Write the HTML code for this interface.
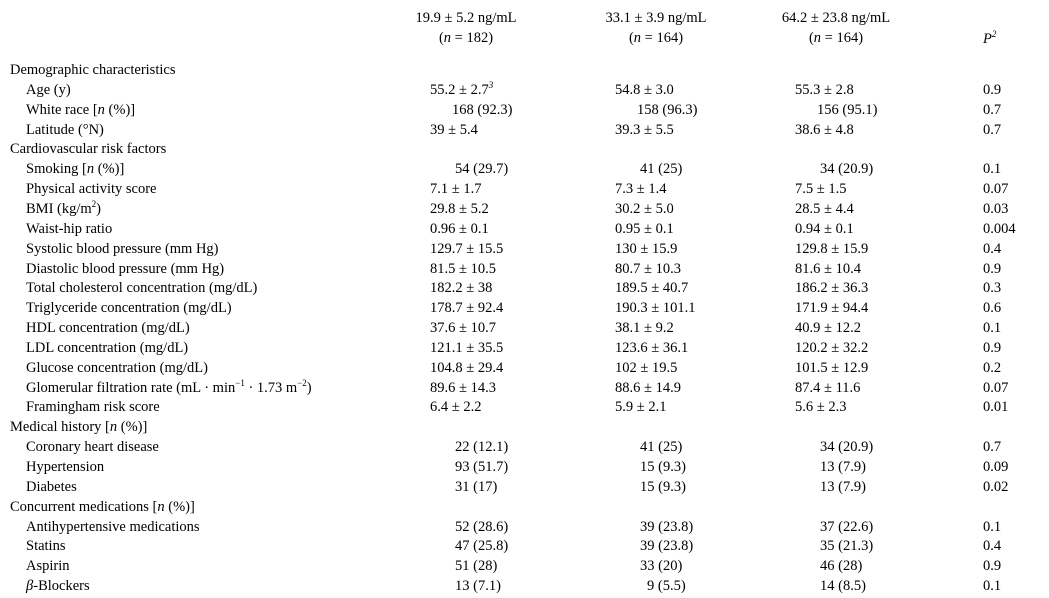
<!DOCTYPE html>
<html><head><meta charset="utf-8">
<style>
html,body{margin:0;padding:0;background:#fff;}
#tbl{position:relative;width:1049px;height:598px;font-family:"Liberation Serif",serif;font-size:14.5px;color:#000;overflow:hidden;}
#tbl div{position:absolute;white-space:nowrap;line-height:16px;}
#tbl div.h{text-align:center;width:160px;line-height:20px;}
i{font-style:italic;}
sup{font-size:9px;vertical-align:6px;line-height:0;}
</style></head><body>
<div id="tbl">
<div class="h" style="left:386px;top:8px">19.9 ± 5.2 ng/mL<br>(<i>n</i> = 182)</div>
<div class="h" style="left:576px;top:8px">33.1 ± 3.9 ng/mL<br>(<i>n</i> = 164)</div>
<div class="h" style="left:756px;top:8px">64.2 ± 23.8 ng/mL<br>(<i>n</i> = 164)</div>
<div style="left:983px;top:31px"><i>P</i><sup><i>2</i></sup></div>
</div>
<script>
const rows = [
 ["Demographic characteristics",0,"","","",""],
 ["Age (y)",1,"55.2 ± 2.7<sup><i>3</i></sup>","54.8 ± 3.0","55.3 ± 2.8","0.9"],
 ["White race [<i>n</i> (%)]",1,"168 (92.3)","158 (96.3)","156 (95.1)","0.7"],
 ["Latitude (°N)",1,"39 ± 5.4","39.3 ± 5.5","38.6 ± 4.8","0.7"],
 ["Cardiovascular risk factors",0,"","","",""],
 ["Smoking [<i>n</i> (%)]",1,"54 (29.7)","41 (25)","34 (20.9)","0.1"],
 ["Physical activity score",1,"7.1 ± 1.7","7.3 ± 1.4","7.5 ± 1.5","0.07"],
 ["BMI (kg/m<sup>2</sup>)",1,"29.8 ± 5.2","30.2 ± 5.0","28.5 ± 4.4","0.03"],
 ["Waist-hip ratio",1,"0.96 ± 0.1","0.95 ± 0.1","0.94 ± 0.1","0.004"],
 ["Systolic blood pressure (mm Hg)",1,"129.7 ± 15.5","130 ± 15.9","129.8 ± 15.9","0.4"],
 ["Diastolic blood pressure (mm Hg)",1,"81.5 ± 10.5","80.7 ± 10.3","81.6 ± 10.4","0.9"],
 ["Total cholesterol concentration (mg/dL)",1,"182.2 ± 38","189.5 ± 40.7","186.2 ± 36.3","0.3"],
 ["Triglyceride concentration (mg/dL)",1,"178.7 ± 92.4","190.3 ± 101.1","171.9 ± 94.4","0.6"],
 ["HDL concentration (mg/dL)",1,"37.6 ± 10.7","38.1 ± 9.2","40.9 ± 12.2","0.1"],
 ["LDL concentration (mg/dL)",1,"121.1 ± 35.5","123.6 ± 36.1","120.2 ± 32.2","0.9"],
 ["Glucose concentration (mg/dL)",1,"104.8 ± 29.4","102 ± 19.5","101.5 ± 12.9","0.2"],
 ["Glomerular filtration rate (mL · min<sup>−1</sup> · 1.73 m<sup>−2</sup>)",1,"89.6 ± 14.3","88.6 ± 14.9","87.4 ± 11.6","0.07"],
 ["Framingham risk score",1,"6.4 ± 2.2","5.9 ± 2.1","5.6 ± 2.3","0.01"],
 ["Medical history [<i>n</i> (%)]",0,"","","",""],
 ["Coronary heart disease",1,"22 (12.1)","41 (25)","34 (20.9)","0.7"],
 ["Hypertension",1,"93 (51.7)","15 (9.3)","13 (7.9)","0.09"],
 ["Diabetes",1,"31 (17)","15 (9.3)","13 (7.9)","0.02"],
 ["Concurrent medications [<i>n</i> (%)]",0,"","","",""],
 ["Antihypertensive medications",1,"52 (28.6)","39 (23.8)","37 (22.6)","0.1"],
 ["Statins",1,"47 (25.8)","39 (23.8)","35 (21.3)","0.4"],
 ["Aspirin",1,"51 (28)","33 (20)","46 (28)","0.9"],
 ["<i>β</i>-Blockers",1,"13 (7.1)","9 (5.5)","14 (8.5)","0.1"]
];
const tbl = document.getElementById('tbl');
const colX = [430, 615, 795];
rows.forEach((r, i) => {
  const top = 62 + i * 19.85;
  const lab = document.createElement('div');
  
  
  lab.style.left = (r[1] ? 26 : 10) + 'px';
  lab.style.top = top + 'px';
  lab.innerHTML = r[0];
  tbl.appendChild(lab);
  for (let c = 0; c < 3; c++) {
    const v = r[2 + c];
    if (!v) continue;
    const d = document.createElement('div');
    
    
    const hasPM = v.indexOf('±') >= 0;
    let x = colX[c];
    if (!hasPM) {
      const big = /^\d{3} /.test(v);
      x += big ? 22 : (/^\d /.test(v) ? 32 : 25);
    }
    d.style.left = x + 'px';
    d.style.top = top + 'px';
    d.innerHTML = v;
    tbl.appendChild(d);
  }
  if (r[5]) {
    const p = document.createElement('div');
    
    
    p.style.left = '983px';
    p.style.top = top + 'px';
    p.textContent = r[5];
    tbl.appendChild(p);
  }
});
</script>
</body></html>
